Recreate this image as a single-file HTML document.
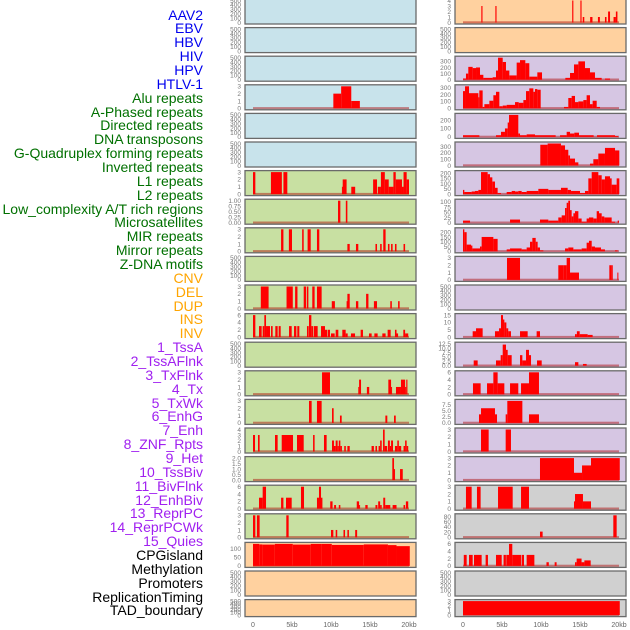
<!DOCTYPE html>
<html><head><meta charset="utf-8">
<style>
html,body{margin:0;padding:0;background:#fff;}
#wrap{position:relative;width:630px;height:630px;overflow:hidden;font-family:"Liberation Sans",sans-serif;}
.lab{position:absolute;right:427px;font-size:14px;line-height:14px;white-space:nowrap;}
svg{position:absolute;left:0;top:0;}
</style></head>
<body>
<div id="wrap">
<svg id="chart" width="630" height="630"></svg>
</div>
<script>
// ---- legend labels ----
const labelNames = ["AAV2","EBV","HBV","HIV","HPV","HTLV-1","Alu repeats","A-Phased repeats","Directed repeats","DNA transposons","G-Quadruplex forming repeats","Inverted repeats","L1 repeats","L2 repeats","Low_complexity A/T rich regions","Microsatellites","MIR repeats","Mirror repeats","Z-DNA motifs","CNV","DEL","DUP","INS","INV","1_TssA","2_TssAFlnk","3_TxFlnk","4_Tx","5_TxWk","6_EnhG","7_Enh","8_ZNF_Rpts","9_Het","10_TssBiv","11_BivFlnk","12_EnhBiv","13_ReprPC","14_ReprPCWk","15_Quies","CPGisland","Methylation","Promoters","ReplicationTiming","TAD_boundary"];
const labelGroupSizes = [6,13,5,15,5];
const labelGroupColors = ["#0000ee","#007000","#ffa500","#a020f0","#000000"];

// ---- x axis ----
const xTickValues = [0,5,10,15,20];
const xTickLabels = ["0","5kb","10kb","15kb","20kb"];

// ---- panel backgrounds ----
const leftBg = ["b","b","b","b","b","b","g","g","g","g","g","g","g","g","g","g","g","g","g","p","p","p"];
const rightBg = ["p","p","l","l","l","l","l","l","l","l","l","l","l","l","l","l","l","x","x","x","x","x"];

// ---- ticks per panel ----
const E = [0,100,200,300,400,500];
const T3 = [0,1,2,3];
const leftTicks = [E,E,E,T3,E,E,T3,[0,0.25,0.5,0.75,1],T3,E,T3,[0,2,4,6],E,T3,T3,[0,1,2,3,4],[0,0.5,1,1.5,2],[0,2,4,6],T3,[0,50,100],E,E];
const leftTickText = [null,null,null,null,null,null,null,["0.00","0.25","0.50","0.75","1.00"],null,null,null,null,null,null,null,null,["0.0","0.5","1.0","1.5","2.0"],null,null,null,null,null];
const rightTicks = [[0,1,2,3,4],E,[0,100,200,300],[0,100,200,300],[0,100,200],[0,100,200,300],[0,50,100,150,200],[0,25,50,75,100],[0,50,100,150,200],T3,E,[0,5,10,15],[0,2.5,5,7.5,10,12.5],[0,2,4,6],[0,2.5,5,7.5],T3,T3,T3,[0,20,40,60,80],[0,2,4,6],E,T3];
const rightTickText = [null,null,null,null,null,null,null,null,null,null,null,null,["0.0","2.5","5.0","7.5","10.0","12.5"],null,["0.0","2.5","5.0","7.5"],null,null,null,null,null,null,null];

// ---- segments [startKb, endKb, value] ----
const leftSegments = [
 [],[],[],
 [[10.3,11.3,2],[11.3,12.6,3],[12.6,13.7,1]],
 [],[],
 [[0,0.3,3],[2.3,3.7,3],[3.9,4.4,3],[11.4,11.5,1],[11.5,12,2],[12.6,13.1,1],[15.4,15.9,2],[16.0,16.4,1],[16.4,16.9,3],[16.9,17.4,2],[17.4,18.0,1],[18.0,18.3,3],[18.3,19.1,2],[19.1,19.3,1],[19.3,19.7,3],[19.7,20,2]],
 [[10.9,11.2,1],[11.9,12.1,1]],
 [[3.6,3.9,3],[4.6,5.0,3],[6.3,6.5,3],[7.0,7.4,3],[8.2,8.5,3],[12.1,12.4,1],[13.2,13.5,1],[15.7,15.9,1],[16.3,16.5,1],[16.7,17.0,3],[17.3,17.5,1],[17.7,17.9,1],[18.2,18.4,1],[19.3,19.5,1]],
 [],
 [[1.0,2.0,3],[4.3,5.1,3],[5.4,5.7,3],[6.5,6.8,3],[6.9,7.1,3],[7.6,7.9,3],[8.2,8.8,3],[10.1,10.5,1],[12.0,12.1,1],[12.1,12.4,2],[13.2,13.5,1],[14.5,14.8,2],[15.5,15.9,1],[17.6,17.8,1],[18.6,18.8,1]],
 [[0,0.3,6],[0.77,1.11,3],[1.24,1.45,3],[1.45,1.67,6],[1.67,2.18,3],[2.31,2.52,3],[2.86,3.16,3],[3.29,3.55,3],[4.62,4.96,3],[5.26,5.56,3],[5.68,5.94,3],[6.92,7.14,3],[7.18,7.48,6],[7.48,7.69,3],[7.78,8.29,3],[8.72,9.23,3],[9.23,9.49,2],[9.57,9.87,2],[10.0,10.47,1],[10.6,10.94,2],[11.45,11.88,2],[11.88,12.14,1],[12.56,13.08,1],[13.8,14.1,2],[14.87,15.21,1],[15.56,15.98,1],[16.58,17.0,1],[17.26,17.65,2],[18.2,18.4,2],[18.4,18.6,1],[19.27,19.5,2],[19.5,19.9,1]],
 [],
 [[8.85,9.87,3],[13.5,13.6,1],[13.6,13.85,2],[14.6,14.9,1],[17.35,17.7,2],[17.7,17.8,1],[18.33,18.97,1],[18.97,19.5,2],[19.5,19.65,1],[19.65,19.8,2]],
 [[7.18,7.52,3],[8.2,8.8,3],[10.13,10.34,2],[11.15,11.37,1],[16.97,17.22,1],[18.08,18.3,1]],
 [[0,0.26,3],[0.64,0.85,3],[2.82,3.16,3],[3.68,5.13,3],[5.64,6.5,3],[7.7,7.9,3],[9.1,9.44,3],[10.13,10.38,2],[10.38,10.6,1],[10.6,10.85,2],[10.85,11.0,1],[11.0,11.2,2],[11.2,11.4,1],[11.7,11.9,1],[12.1,12.4,1],[15.2,15.5,1],[15.7,15.9,1],[16.1,16.3,1],[16.3,16.5,2],[16.67,16.88,4],[16.88,17.2,1],[17.3,17.55,2],[17.55,17.7,1],[17.7,17.95,2],[18.2,18.5,1],[18.5,18.7,2],[18.7,19.0,1],[19.3,19.5,1],[19.5,19.7,2],[19.7,19.9,1]],
 [[17.86,18.08,2],[18.08,18.2,1],[18.85,19.2,1]],
 [[0.77,1.24,3],[1.24,1.67,6],[3.6,3.9,3],[4.23,4.96,3],[6.15,6.54,6],[8.2,8.46,3],[8.46,8.72,6],[8.72,8.9,3],[9.9,10.2,2],[10.4,10.65,1],[11.0,11.2,1],[13.3,13.6,2],[13.6,13.7,1],[14.4,14.7,1],[15.7,15.95,1],[16.05,16.3,2],[16.3,16.5,1],[16.7,16.95,3],[16.95,17.6,1],[17.9,18.4,1],[19.3,19.5,1],[19.6,19.9,2]],
 [[0,0.3,3],[0.5,0.85,3],[4.27,4.57,3],[10.0,10.3,1],[10.6,10.8,1],[11.6,11.8,1],[12.1,12.3,1],[13.1,13.35,1]],
 [[0,0.8,128],[0.8,1.2,125],[1.2,2.8,124],[2.8,5.1,128],[5.1,7.4,124],[7.4,8.8,128],[8.8,10.1,128],[10.1,14.2,122],[14.2,17.3,125],[17.3,18.4,121],[18.4,20.1,115]],
 [],[]
];
const rightSegments = [
 [[2.35,2.5,3],[4.15,4.3,3],[14.0,14.15,4],[15.05,15.2,4],[15.35,15.55,1],[16.3,16.6,1],[17.3,17.55,1],[18.2,18.4,1],[18.6,18.85,2],[19.3,19.6,1],[19.6,19.8,2]],
 [],
 [[0,0.38,20],[0.38,0.68,100],[0.68,1.24,210],[1.24,1.67,190],[1.67,2.18,200],[2.18,2.61,80],[2.61,3.8,30],[3.8,4.23,40],[4.23,4.49,150],[4.49,5.09,360],[5.09,5.51,290],[5.51,5.94,150],[5.94,6.88,70],[6.88,7.31,280],[7.31,7.99,320],[7.99,8.5,270],[8.5,9.53,50],[9.53,10.13,120],[13.12,13.72,30],[13.72,14.23,110],[14.23,14.79,250],[14.79,15.64,300],[15.64,16.28,190],[16.28,16.92,120],[16.92,17.78,30],[18.2,18.85,20]],
 [[0,0.26,250],[0.26,0.77,320],[0.77,1.97,220],[1.97,2.09,160],[2.09,2.52,260],[2.52,2.74,20],[2.74,3.38,60],[3.38,3.89,110],[3.89,4.23,190],[4.23,4.66,240],[4.66,5.09,30],[5.09,5.6,40],[5.6,6.67,50],[6.67,7.14,90],[7.14,7.74,80],[7.74,8.08,120],[8.08,8.5,250],[8.5,9.02,290],[9.02,9.23,240],[9.23,9.53,280],[9.53,9.96,270],[12.95,13.5,20],[13.5,13.93,150],[13.93,14.36,180],[14.36,14.79,90],[14.79,15.43,100],[15.43,15.85,120],[15.85,16.28,190],[16.28,16.62,60],[16.62,17.14,110],[17.14,17.56,20]],
 [[0,2.1,20],[4.23,4.87,20],[4.87,5.38,60],[5.38,5.73,100],[5.73,5.9,170],[5.9,7.09,260],[7.09,7.31,40],[7.31,8.16,20],[8.16,9.23,30],[9.23,11.88,20],[12.44,13.29,20],[13.29,13.72,60],[13.72,14.27,40],[14.27,14.87,50],[14.87,16.75,20],[17.18,19.49,20],[19.49,19.91,10]],
 [[9.91,10.85,330],[10.85,12.56,350],[12.56,13.08,320],[13.08,13.5,250],[13.5,13.72,160],[13.72,14.36,110],[14.36,14.79,50],[16.28,16.71,30],[16.71,17.35,100],[17.35,18.2,190],[18.2,19.49,280],[19.49,20.04,240]],
 [[0,0.17,40],[0.17,1.11,20],[1.11,1.54,25],[1.54,1.97,30],[1.97,2.31,40],[2.31,3.16,210],[3.16,3.46,190],[3.46,3.76,160],[3.76,4.1,120],[4.1,4.44,60],[4.44,4.87,10],[5.6,6.24,20],[6.24,6.67,30],[6.67,7.09,25],[7.09,7.52,30],[7.52,8.16,20],[8.16,9.66,30],[9.66,10.94,50],[10.94,12.56,40],[12.56,13.42,60],[13.42,13.85,40],[13.85,15.0,30],[15.0,15.64,10],[15.64,16.07,30],[16.07,16.5,150],[16.5,17.35,210],[17.35,17.78,180],[17.78,18.2,140],[18.2,18.85,170],[18.85,19.06,150],[19.06,19.7,90],[19.7,20.04,150]],
 [[0,0.9,10],[6.03,7.31,15],[9.87,10.94,15],[10.94,12.22,10],[12.22,12.65,25],[12.65,13.08,35],[13.08,13.29,70],[13.29,13.5,95],[13.5,13.72,105],[13.72,13.93,60],[13.93,14.15,30],[14.15,14.36,45],[14.36,14.79,55],[14.79,15.21,20],[15.21,15.85,5],[15.85,16.15,20],[16.15,16.71,25],[16.71,17.14,20],[17.14,17.44,55],[17.44,17.78,45],[17.78,18.12,30],[18.12,19.06,25],[19.06,19.49,5],[19.83,20,10]],
 [[0,0.17,230],[0.17,0.47,200],[0.47,1.03,70],[1.03,1.2,60],[1.2,2.18,30],[2.18,2.39,50],[2.39,3.89,150],[3.89,4.44,130],[5.6,6.03,20],[6.03,7.52,30],[7.52,8.16,20],[8.16,8.59,40],[8.59,8.89,100],[8.89,9.32,140],[9.32,9.57,100],[9.57,9.87,40],[9.87,10.3,10],[13.08,13.5,30],[13.5,14.15,40],[14.15,15.21,20],[15.21,15.85,30],[15.85,16.15,90],[16.15,16.5,110],[16.5,16.92,50],[16.92,17.69,40],[17.69,18.2,20],[19.49,19.83,10]],
 [[5.64,7.31,3],[12.22,12.86,2],[12.86,13.29,2],[13.29,13.72,3],[13.72,14.87,1],[18.76,19.06,2],[19.06,19.2,2],[19.79,19.91,1]],
 [],
 [[1.24,1.67,4],[1.67,2.52,6],[4.1,4.62,4],[4.62,4.87,6],[4.87,5.13,15],[5.13,5.3,12],[5.3,5.56,10],[5.56,5.8,6],[5.8,6.15,4],[7.31,8.29,4],[9.44,9.87,4],[14.36,14.6,2],[14.6,14.96,4],[14.96,15.98,2],[15.98,16.62,1.5]],
 [[1.37,1.88,3],[4.23,4.83,3],[4.83,5.09,6],[5.09,5.51,12],[5.51,5.73,9],[5.73,6.24,6],[7.31,7.61,6],[7.61,8.08,3],[8.08,8.46,9],[8.46,8.72,6],[9.49,10.09,3],[14.36,14.79,2],[15.38,15.85,1]],
 [[1.28,2.26,3],[3.08,3.89,3],[3.89,4.44,6],[4.44,5.3,3],[6.03,7.09,3],[7.44,8.46,3],[8.46,9.74,6]],
 [[2.05,2.31,3.5],[2.31,4.1,6],[4.1,4.36,3.5],[5.47,5.68,3.5],[5.68,7.61,9],[8.46,9.74,3.5]],
 [[2.31,3.29,3],[5.47,6.15,3]],
 [[9.87,14.23,3],[14.23,15.26,1],[15.26,16.41,2],[16.41,20.1,3]],
 [[0.38,1.11,3],[1.79,2.26,3],[4.49,6.37,3],[7.44,8.46,3],[14.23,14.36,1],[14.36,15.38,2],[15.38,16.41,1]],
 [[9.87,10.21,22],[19.27,19.7,85]],
 [[0.1,0.47,3],[0.77,1.24,3],[1.41,2.39,3],[2.9,3.2,3],[4.23,4.96,3],[5.2,5.5,3],[5.55,5.9,3],[5.9,6.32,6],[6.32,7.44,3],[7.52,7.82,3],[8.16,9.15,3],[10.7,11.0,1],[11.75,12.0,1],[14.36,14.57,1],[14.57,15.2,2],[15.2,15.56,1],[15.56,16.37,1.5]],
 [],
 [[0,20.1,3]]
];

const NS = "http://www.w3.org/2000/svg";
const svg = document.getElementById("chart");
const wrap = document.getElementById("wrap");
const bgColors = {b:"#c8e3eb",g:"#c8e0a2",p:"#ffd19f",l:"#d6c6e3",x:"#d0d0d0"};
function mk(tag, attrs){ const e=document.createElementNS(NS,tag); for(const k in attrs) e.setAttribute(k,attrs[k]); return e; }

// labels
let li=0;
labelGroupSizes.forEach((n,g)=>{
  for(let j=0;j<n;j++){
    const d=document.createElement("div");
    d.className="lab";
    d.textContent=labelNames[li];
    d.style.top=(15+li*13.86-7.5)+"px";
    d.style.color=labelGroupColors[g];
    
    
    wrap.appendChild(d);
    li++;
  }
});

function drawPanel(col, i, bgKey, ticks, tickText, segs){
  const px0 = col===0 ? 245 : 455;
  const pw = 171;
  const top = 28.6*i - 1;
  const h = i===21 ? 17 : 25;
  const xs = kb => px0 + 8 + kb*7.8;
  const yTop = top + 1.5, yBot = top + h - 1.5;
  let ymax = ticks[ticks.length-1];
  segs.forEach(s=>{ if(s[2]>ymax) ymax=s[2]; });
  const ys = v => yBot - (v/ymax)*(yBot-yTop);
  const g = mk("g",{});
  
  
  const r = mk("rect",{x:px0,y:top,width:pw,height:h,fill:bgColors[bgKey],stroke:"#6a6a6a","stroke-width":1.3});
  
  
  g.appendChild(r);
  ticks.forEach((t,k)=>{
    const tx = mk("text",{x:px0-4,y:ys(t)+2.3,"text-anchor":"end","font-size":"6.5","fill":"#777","font-family":"Liberation Sans, sans-serif"});
    tx.textContent = tickText ? tickText[k] : String(t);
    
    
    g.appendChild(tx);
  });
  if(segs.length){
    const bl = mk("rect",{x:xs(0),y:yBot-1.2,width:xs(20)-xs(0),height:2,fill:"rgba(170,0,0,0.45)"});
    
    
    g.appendChild(bl);
  }
  segs.forEach(s=>{
    const y = ys(s[2]);
    const b = mk("rect",{x:xs(s[0]),y:y,width:Math.max(1,xs(s[1])-xs(s[0])),height:yBot-y,fill:"#ff0000"});
    
    
    g.appendChild(b);
  });
  svg.appendChild(g);
}
for(let i=0;i<22;i++){
  drawPanel(0,i,leftBg[i],leftTicks[i],leftTickText[i],leftSegments[i]);
  drawPanel(1,i,rightBg[i],rightTicks[i],rightTickText[i],rightSegments[i]);
}
// x axes
[245,455].forEach(px0=>{
  xTickValues.forEach((v,k)=>{
    const t = mk("text",{x:px0+8+v*7.8,y:627,"text-anchor":"middle","font-size":"7","fill":"#666","font-family":"Liberation Sans, sans-serif"});
    t.textContent = xTickLabels[k];
    
    
    svg.appendChild(t);
  });
});
</script>
</body></html>
